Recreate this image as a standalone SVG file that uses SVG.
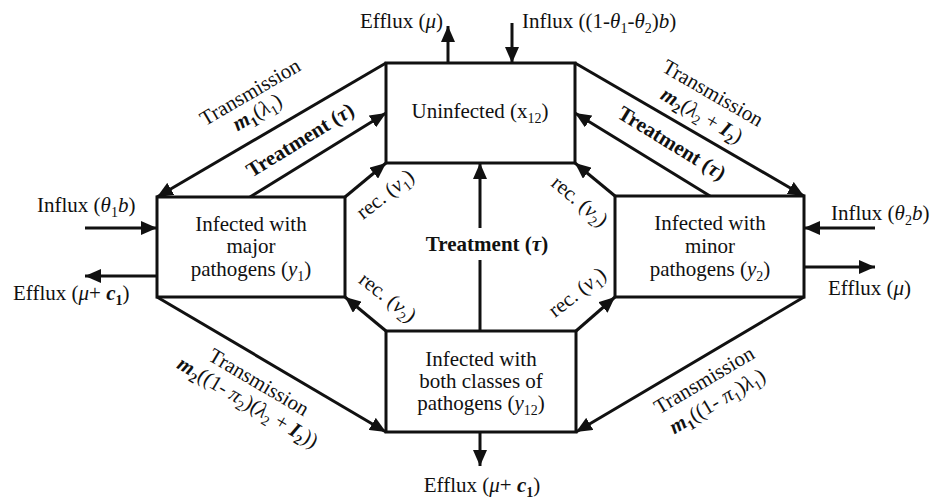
<svg xmlns="http://www.w3.org/2000/svg" width="930" height="499" viewBox="0 0 930 499">
<style>
.t{font-family:"Liberation Serif","Times New Roman",serif;font-size:21px;fill:#111}
.b{font-weight:bold}
.i{font-style:italic}
.s{font-size:14px}
.c{stroke:#111;stroke-width:3;fill:none}
.a{marker-end:url(#ah)}
.box{fill:#fff;stroke:#111;stroke-width:3}
</style>
<defs>
<marker id="ah" markerUnits="userSpaceOnUse" markerWidth="16" markerHeight="14" refX="16" refY="7" orient="auto">
<path d="M0,0 L16,7 L0,14 z" fill="#111"/>
</marker>
</defs>
<rect width="930" height="499" fill="#fff"/>
<g id="connectors">
<path class="c a" d="M386,63 L157,197"/>
<path class="c a" d="M250,197 L386,113"/>
<path class="c a" d="M345,197 L386,163"/>
<path class="c a" d="M386,331 L345,297"/>
<path class="c a" d="M157,297 L386,432"/>
<path class="c a" d="M575,63 L804,196"/>
<path class="c a" d="M710,196 L575,113"/>
<path class="c a" d="M615,196 L575,163"/>
<path class="c a" d="M576,331 L615,297"/>
<path class="c a" d="M804,297 L576,432"/>
<path class="c" d="M480,331 L480,260"/>
<path class="c a" d="M480,228 L480,163"/>
<path class="c a" d="M448,63 L448,26"/>
<path class="c a" d="M512,23 L512,63"/>
<path class="c a" d="M85,228 L157,228"/>
<path class="c a" d="M157,276 L85,276"/>
<path class="c a" d="M875,228 L804,228"/>
<path class="c a" d="M804,267 L875,267"/>
<path class="c a" d="M480,432 L480,466"/>
</g>
<g id="uninfected">
<rect class="box" x="386" y="63" width="189" height="100"/>
<text class="t" x="480" y="118" text-anchor="middle">Uninfected (x<tspan class="s" dy="5">12</tspan><tspan dy="-5">)</tspan></text>
</g>
<g id="major">
<rect class="box" x="157" y="197" width="188" height="100"/>
<text class="t" x="251" y="231" text-anchor="middle">Infected with</text>
<text class="t" x="251" y="253" text-anchor="middle">major</text>
<text class="t" x="251" y="276" text-anchor="middle">pathogens (<tspan class="i">y</tspan><tspan class="s" dy="5">1</tspan><tspan dy="-5">)</tspan></text>
</g>
<g id="minor">
<rect class="box" x="615" y="196" width="189" height="101"/>
<text class="t" x="710" y="230" text-anchor="middle">Infected with</text>
<text class="t" x="710" y="253" text-anchor="middle">minor</text>
<text class="t" x="710" y="276" text-anchor="middle">pathogens (<tspan class="i">y</tspan><tspan class="s" dy="5">2</tspan><tspan dy="-5">)</tspan></text>
</g>
<g id="both">
<rect class="box" x="386" y="331" width="190" height="101"/>
<text class="t" x="481" y="366" text-anchor="middle">Infected with</text>
<text class="t" x="481" y="388" text-anchor="middle">both classes of</text>
<text class="t" x="481" y="410" text-anchor="middle">pathogens (<tspan class="i">y</tspan><tspan class="s" dy="5">12</tspan><tspan dy="-5">)</tspan></text>
</g>
<g id="labels">
<text class="t" x="443" y="28" text-anchor="end">Efflux (<tspan class="i">μ</tspan>)</text>
<text class="t" x="522" y="28">Influx ((1-<tspan class="i">θ</tspan><tspan class="s" dy="5">1</tspan><tspan dy="-5">-</tspan><tspan class="i">θ</tspan><tspan class="s" dy="5">2</tspan><tspan dy="-5">)</tspan><tspan class="i">b</tspan>)</text>
<text class="t" x="37" y="212">Influx (<tspan class="i">θ</tspan><tspan class="s" dy="5">1</tspan><tspan class="i" dy="-5">b</tspan>)</text>
<text class="t" x="13" y="300">Efflux (<tspan class="i">μ</tspan>+ <tspan class="b i">c</tspan><tspan class="s b" dy="5">1</tspan><tspan dy="-5">)</tspan></text>
<text class="t" x="831" y="220">Influx (<tspan class="i">θ</tspan><tspan class="s" dy="5">2</tspan><tspan class="i" dy="-5">b</tspan>)</text>
<text class="t" x="828" y="295">Efflux (<tspan class="i">μ</tspan>)</text>
<text class="t" x="482" y="492" text-anchor="middle">Efflux (<tspan class="i">μ</tspan>+ <tspan class="b i">c</tspan><tspan class="s b" dy="5">1</tspan><tspan dy="-5">)</tspan></text>
<text class="t b" x="487" y="251" text-anchor="middle">Treatment (<tspan class="i">τ</tspan>)</text>
<g transform="translate(250,92) rotate(-30.3)"><text class="t" y="7" text-anchor="middle">Transmission</text></g>
<g transform="translate(257,112) rotate(-30.3)"><text class="t" y="7" text-anchor="middle"><tspan class="b i">m</tspan><tspan class="s b" dy="5">1</tspan><tspan dy="-5">(</tspan><tspan class="i">λ</tspan><tspan class="s" dy="5">1</tspan><tspan dy="-5">)</tspan></text></g>
<g transform="translate(300,140) rotate(-31.7)"><text class="t b" y="7" text-anchor="middle">Treatment (<tspan class="i">τ</tspan>)</text></g>
<g transform="translate(713,93) rotate(30.1)"><text class="t" y="7" text-anchor="middle">Transmission</text></g>
<g transform="translate(702,115) rotate(30.1)"><text class="t" y="7" text-anchor="middle"><tspan class="b i">m</tspan><tspan class="s b" dy="5">2</tspan><tspan dy="-5">(</tspan><tspan class="i">λ</tspan><tspan class="s" dy="5">2</tspan><tspan dy="-5"> + </tspan><tspan class="b i">I</tspan><tspan class="s b" dy="5">2</tspan><tspan dy="-5">)</tspan></text></g>
<g transform="translate(672,143) rotate(31.6)"><text class="t b" y="7" text-anchor="middle">Treatment (<tspan class="i">τ</tspan>)</text></g>
<g transform="translate(259,382) rotate(30.5)"><text class="t" y="7" text-anchor="middle">Transmission</text></g>
<g transform="translate(248,402) rotate(30.5)"><text class="t" y="7" text-anchor="middle"><tspan class="b i">m</tspan><tspan class="s b" dy="5">2</tspan><tspan dy="-5">((1- </tspan><tspan class="i">π</tspan><tspan class="s" dy="5">2</tspan><tspan dy="-5">)(</tspan><tspan class="i">λ</tspan><tspan class="s" dy="5">2</tspan><tspan dy="-5"> + </tspan><tspan class="b i">I</tspan><tspan class="s b" dy="5">2</tspan><tspan dy="-5">))</tspan></text></g>
<g transform="translate(704,380) rotate(-30.6)"><text class="t" y="7" text-anchor="middle">Transmission</text></g>
<g transform="translate(717,401) rotate(-30.6)"><text class="t" y="7" text-anchor="middle"><tspan class="b i">m</tspan><tspan class="s b" dy="5">1</tspan><tspan dy="-5">((1- </tspan><tspan class="i">π</tspan><tspan class="s" dy="5">1</tspan><tspan dy="-5">)</tspan><tspan class="i">λ</tspan><tspan class="s" dy="5">1</tspan><tspan dy="-5">)</tspan></text></g>
<g transform="translate(385,194) rotate(-38)"><text class="t" y="7" text-anchor="middle">rec. (<tspan class="i">v</tspan><tspan class="s" dy="5">1</tspan><tspan dy="-5">)</tspan></text></g>
<g transform="translate(580,201) rotate(40)"><text class="t" y="7" text-anchor="middle">rec. (<tspan class="i">v</tspan><tspan class="s" dy="5">2</tspan><tspan dy="-5">)</tspan></text></g>
<g transform="translate(388,297) rotate(38)"><text class="t" y="7" text-anchor="middle">rec. (<tspan class="i">v</tspan><tspan class="s" dy="5">2</tspan><tspan dy="-5">)</tspan></text></g>
<g transform="translate(577,292) rotate(-38)"><text class="t" y="7" text-anchor="middle">rec. (<tspan class="i">v</tspan><tspan class="s" dy="5">1</tspan><tspan dy="-5">)</tspan></text></g>
</g>
</svg>
